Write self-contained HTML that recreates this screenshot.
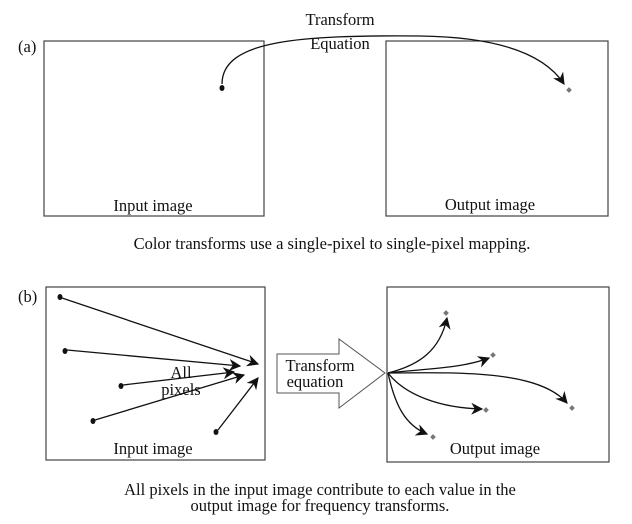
<!DOCTYPE html>
<html><head><meta charset="utf-8"><style>
html,body{margin:0;padding:0;background:#fff}
svg{display:block}
text{font-family:"Liberation Serif",serif;font-size:16.5px;fill:#111}
</style></head><body>
<svg width="632" height="524" viewBox="0 0 632 524">
<defs>
<marker id="ah" viewBox="0 0 10 10" refX="9" refY="5" markerWidth="12" markerHeight="12" orient="auto" markerUnits="userSpaceOnUse">
<path d="M0,0 L10,5 L0,10 L3,5 Z" fill="#111"/></marker>
</defs>
<g>
<text x="18" y="52">(a)</text>
<rect x="44" y="41" width="220" height="175" fill="none" stroke="#444" stroke-width="1.2"/>
<rect x="386" y="41" width="222" height="175" fill="none" stroke="#444" stroke-width="1.2"/>
<text x="340" y="25" text-anchor="middle">Transform</text>
<text x="340" y="49" text-anchor="middle">Equation</text>
<ellipse cx="222" cy="88" rx="2.5" ry="3" fill="#111"/>
<path d="M222,84 C222,40 300,35 420,36 C500,37 545,55 564,84" fill="none" stroke="#111" stroke-width="1.3" marker-end="url(#ah)"/>
<rect x="567" y="88" width="4" height="4" transform="rotate(45 569 90)" fill="#777"/>
<text x="153" y="211" text-anchor="middle">Input image</text>
<text x="490" y="210" text-anchor="middle">Output image</text>
<text x="332" y="249" text-anchor="middle">Color transforms use a single-pixel to single-pixel mapping.</text>
</g>
<g>
<text x="18" y="302">(b)</text>
<rect x="46" y="287" width="219" height="173" fill="none" stroke="#444" stroke-width="1.2"/>
<rect x="387" y="287" width="222" height="175" fill="none" stroke="#444" stroke-width="1.2"/>
<g fill="#111">
<ellipse cx="60" cy="297" rx="2.5" ry="3"/>
<ellipse cx="65" cy="351" rx="2.5" ry="3"/>
<ellipse cx="121" cy="386" rx="2.5" ry="3"/>
<ellipse cx="93" cy="421" rx="2.5" ry="3"/>
<ellipse cx="216" cy="432" rx="2.5" ry="3"/>
</g>
<g stroke="#111" stroke-width="1.3" fill="none">
<line x1="62" y1="298" x2="258" y2="364" marker-end="url(#ah)"/>
<line x1="67" y1="350" x2="240" y2="366" marker-end="url(#ah)"/>
<line x1="123" y1="385" x2="234" y2="372" marker-end="url(#ah)"/>
<line x1="95" y1="420" x2="244" y2="375" marker-end="url(#ah)"/>
<line x1="218" y1="430" x2="258" y2="378" marker-end="url(#ah)"/>
</g>
<text x="181" y="378" text-anchor="middle">All</text>
<text x="181" y="395" text-anchor="middle">pixels</text>
<text x="153" y="454" text-anchor="middle">Input image</text>
<path d="M277,354 L339,354 L339,339 L385,373 L339,408 L339,393 L277,393 Z" fill="#fff" stroke="#555" stroke-width="1"/>
<text x="320" y="371" text-anchor="middle">Transform</text>
<text x="315" y="387" text-anchor="middle">equation</text>
<g stroke="#111" stroke-width="1.3" fill="none">
<path d="M388,373 C420,365 440,350 447,318" marker-end="url(#ah)"/>
<path d="M388,373 C420,369 460,369 489,358" marker-end="url(#ah)"/>
<path d="M388,373 C470,372 540,372 567,403" marker-end="url(#ah)"/>
<path d="M388,373 C405,395 440,408 482,409" marker-end="url(#ah)"/>
<path d="M388,373 C395,405 405,425 427,434" marker-end="url(#ah)"/>
</g>
<g fill="#777">
<rect x="444" y="311" width="4" height="4" transform="rotate(45 446 313)"/>
<rect x="491" y="353" width="4" height="4" transform="rotate(45 493 355)"/>
<rect x="570" y="406" width="4" height="4" transform="rotate(45 572 408)"/>
<rect x="484" y="408" width="4" height="4" transform="rotate(45 486 410)"/>
<rect x="431" y="435" width="4" height="4" transform="rotate(45 433 437)"/>
</g>
<text x="495" y="454" text-anchor="middle">Output image</text>
<text x="320" y="495" text-anchor="middle">All pixels in the input image contribute to each value in the</text>
<text x="320" y="511" text-anchor="middle">output image for frequency transforms.</text>
</g>
</svg>
</body></html>
